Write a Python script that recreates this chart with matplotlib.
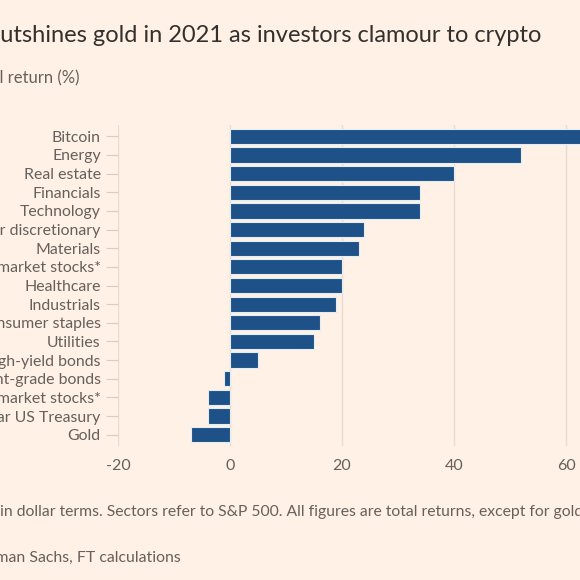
import matplotlib.pyplot as plt

# Data (2021 total return, %)
categories = [
    "Bitcoin", "Energy", "Real estate", "Financials", "Technology",
    "Consumer discretionary", "Materials", "Developed market stocks*",
    "Healthcare", "Industrials", "Consumer staples", "Utilities",
    "US high-yield bonds", "US investment-grade bonds",
    "Emerging market stocks*", "10-year US Treasury", "Gold",
]
returns = [66, 52, 40, 34, 34, 24, 23, 20, 20, 19, 16, 15, 5, -1, -4, -4, -7]
x_ticks = [-20, 0, 20, 40, 60]

BG = "#FFF1E5"
BAR = "#1E5188"
GRID = "#E8DCD1"
TEXT = "#33302E"
MUTED = "#66605C"

plt.rcParams["font.family"] = ["Lato", "DejaVu Sans"]

fig = plt.figure(figsize=(5.8, 5.8), dpi=100, facecolor=BG)
W, H = 580.0, 580.0

# axes spans past the right edge of the canvas, like the cropped original
left, top, bottom = 118 / W, 125 / H, 446 / H
x_min, x_max = -20, 70
px_per_unit = 5.6
width = (x_max - x_min) * px_per_unit / W
ax = fig.add_axes([left, 1 - bottom, width, bottom - top])
ax.set_facecolor(BG)

ypos = list(range(len(categories)))
ax.barh(ypos, returns, height=0.82, color=BAR, edgecolor="#E4ECF4",
        linewidth=0.8, zorder=3)

ax.set_xlim(x_min, x_max)
ax.set_ylim(len(categories) - 0.4, -0.6)
ax.set_xticks(x_ticks)
ax.set_xticklabels([str(v) for v in x_ticks])
ax.set_yticks(ypos)
ax.set_yticklabels(categories)

for s in ax.spines.values():
    s.set_visible(False)
ax.grid(axis="x", color=GRID, linewidth=1, zorder=0)
ax.tick_params(axis="x", length=0, pad=9, labelsize=11.5, labelcolor=MUTED)
ax.tick_params(axis="y", length=9, width=0.8, color="#D9CCC1", pad=3.5,
               labelsize=11.4, labelcolor=MUTED)

# titles and notes (cut by the canvas edges as in the original)
fig.text(541 / W, 1 - 36 / H,
         "Bitcoin outshines gold in 2021 as investors clamour to crypto",
         ha="right", va="center", fontsize=17, color=TEXT)
fig.text(80 / W, 1 - 78 / H, "Total return (%)",
         ha="right", va="center", fontsize=12, color=MUTED)

fig.text(0, 1 - 512 / H, "* MSCI indices ",
         ha="right", va="center", fontsize=11.3, color=MUTED)
fig.text(0, 1 - 512 / H,
         "in dollar terms. Sectors refer to S&P 500. All figures are total returns, except for gold",
         ha="left", va="center", fontsize=11.3, color=MUTED)
fig.text(181 / W, 1 - 558 / H, "Sources: Refinitiv, Goldman Sachs, FT calculations",
         ha="right", va="center", fontsize=11.4, color=MUTED)

fig.savefig("out.png", dpi=100, facecolor=BG)
